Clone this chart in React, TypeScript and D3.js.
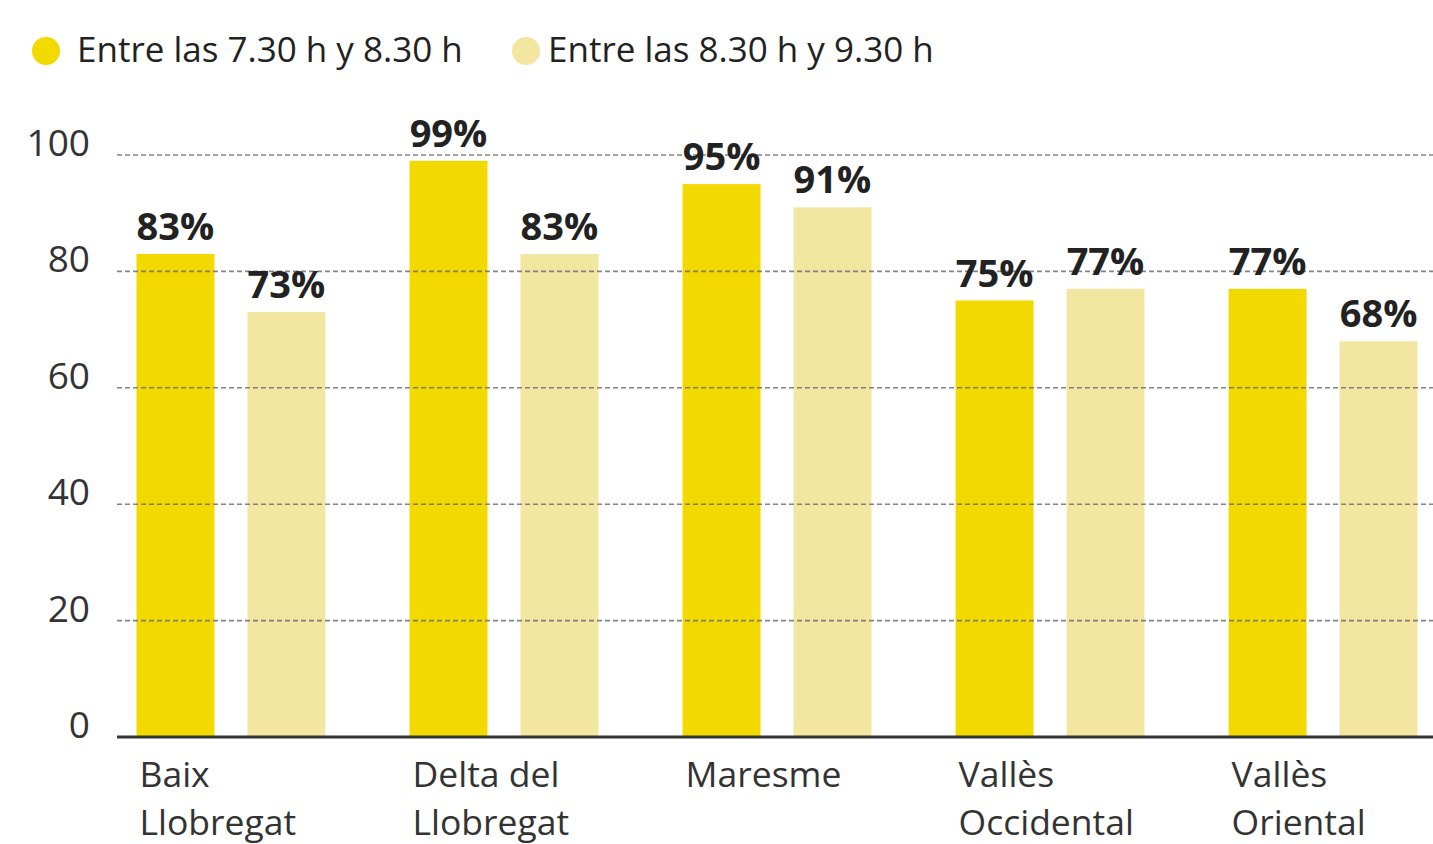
import React from "react";
import * as d3 from "d3";

const categories: string[][] = [
  ["Baix", "Llobregat"],
  ["Delta del", "Llobregat"],
  ["Maresme"],
  ["Vallès", "Occidental"],
  ["Vallès", "Oriental"],
];
const series = ["Entre las 7.30 h y 8.30 h", "Entre las 8.30 h y 9.30 h"];
const early = [83, 99, 95, 75, 77];
const late = [73, 83, 91, 77, 68];
const yTicks = [0, 20, 40, 60, 80, 100];
const colors = ["#F2DA00", "#F3E6A0"];

const W = 1433;
const H = 844;
const FONT = "'Open Sans', 'Noto Sans', sans-serif";

export default function App() {
  const y = d3.scaleLinear().domain([0, 100]).range([737, 155]);
  const x = d3
    .scaleBand<number>()
    .domain(d3.range(categories.length))
    .range([119, 1435])
    .paddingInner(0.308)
    .paddingOuter(0.064);
  const xs = d3
    .scaleBand<number>()
    .domain([0, 1])
    .range([0, x.bandwidth()])
    .paddingInner(0.297);
  const data = [early, late];

  return (
    <svg
      width={W}
      height={H}
      style={{ position: "absolute", left: 0, top: 0, background: "#fff" }}
      fontFamily={FONT}
    >
      {/* legend */}
      {series.map((s, i) => {
        const lx = i === 0 ? 46 : 526;
        return (
          <g key={s}>
            <circle cx={lx} cy={51} r={14} fill={colors[i]} />
            <text x={lx + (i === 0 ? 31 : 22)} y={62} fontSize={35} fill="#222">
              {s}
            </text>
          </g>
        );
      })}

      {/* bars */}
      {data.map((vals, si) =>
        vals.map((v, ci) => (
          <rect
            key={`${si}-${ci}`}
            x={(x(ci) as number) + (xs(si) as number)}
            y={y(v)}
            width={xs.bandwidth()}
            height={y(0) - y(v)}
            fill={colors[si]}
          />
        ))
      )}

      {/* gridlines */}
      {yTicks
        .filter((t) => t > 0)
        .map((t) => (
          <line
            key={t}
            x1={117}
            x2={W}
            y1={y(t)}
            y2={y(t)}
            stroke="#6f6f7a"
            strokeWidth={1.6}
            strokeDasharray="5,3"
            opacity={0.85}
          />
        ))}
      <line x1={117} x2={W} y1={y(0)} y2={y(0)} stroke="#333" strokeWidth={3} />

      {/* y tick labels */}
      {yTicks.map((t) => (
        <text
          key={t}
          x={90}
          y={y(t) + 1}
          textAnchor="end"
          fontSize={37}
          fill="#333"
        >
          {t}
        </text>
      ))}

      {/* value labels */}
      {data.map((vals, si) =>
        vals.map((v, ci) => (
          <text
            key={`l${si}-${ci}`}
            x={(x(ci) as number) + (xs(si) as number) + xs.bandwidth() / 2}
            y={y(v) - 14}
            textAnchor="middle"
            fontSize={38}
            fontWeight={700}
            fill="#222"
          >
            {v}%
          </text>
        ))
      )}

      {/* category labels */}
      {categories.map((lines, ci) => (
        <text
          key={ci}
          x={(x(ci) as number) + 3}
          y={787}
          fontSize={35.5}
          fill="#333"
        >
          {lines.map((ln, li) => (
            <tspan key={li} x={(x(ci) as number) + 3} dy={li === 0 ? 0 : 48}>
              {ln}
            </tspan>
          ))}
        </text>
      ))}
    </svg>
  );
}
